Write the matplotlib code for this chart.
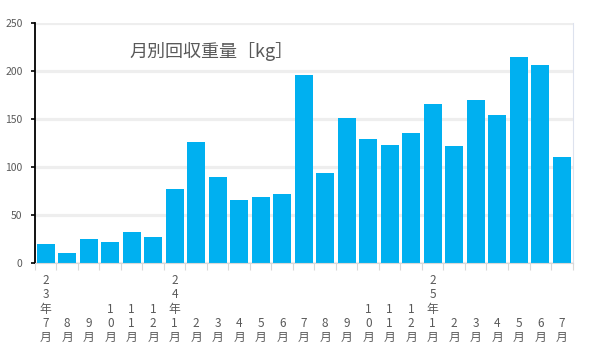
import matplotlib
matplotlib.use("Agg")
import matplotlib.pyplot as plt
import numpy as np

plt.rcParams['font.family'] = ['Noto Sans CJK JP', 'DejaVu Sans']

labels = ["23年7月", "8月", "9月", "10月", "11月", "12月",
          "24年1月", "2月", "3月", "4月", "5月", "6月", "7月", "8月", "9月", "10月", "11月", "12月",
          "25年1月", "2月", "3月", "4月", "5月", "6月", "7月"]
values = [20, 10, 25, 22, 32, 27,
          77, 126, 90, 66, 69, 72, 196, 94, 151, 129, 123, 135,
          166, 122, 170, 154, 215, 206, 110]
yticks = [0, 50, 100, 150, 200, 250]
title = "月別回収重量［kg］"

fig = plt.figure(figsize=(5.91, 3.48), dpi=100)
ax = fig.add_axes([0.0592, 0.2443, 0.9095, 0.6896])

x = np.arange(len(values))
ax.bar(x, values, width=0.82, color='#00b0f0', zorder=2)

ax.set_xlim(-0.5, len(values) - 0.5)
ax.set_ylim(0, 250)
ax.set_yticks(yticks)
ax.yaxis.grid(True, color='#eeeeee', linewidth=2.3, zorder=0)
ax.set_axisbelow(True)

# vertical stacked labels, padded so all bottoms align
maxlen = max(len(s) for s in labels)
vlabels = ["\n" * (maxlen - len(s)) + "\n".join(list(s)) for s in labels]
ax.set_xticks(x)
ax.set_xticklabels(vlabels, fontsize=8.5, color='#595959', linespacing=1.13, va='top')
ax.set_xticks(np.arange(-0.5, len(values), 1.0), minor=True)
ax.tick_params(axis='x', which='major', length=0, pad=8)
ax.tick_params(axis='x', which='minor', length=5, color='#d9d9d9', width=0.8)
ax.tick_params(axis='y', length=3, color='black', width=1.2, labelsize=7.5, labelcolor='#595959', pad=6)

ax.spines['top'].set_visible(False)
ax.spines['left'].set_color('black')
ax.spines['left'].set_linewidth(1.3)
ax.spines['bottom'].set_color('#d9d9d9')
ax.spines['bottom'].set_linewidth(0.8)
ax.spines['right'].set_color('#dde2ee')
ax.spines['right'].set_linewidth(0.8)

ax.text(0.175, 0.88, title, transform=ax.transAxes, fontsize=13, color='#595959',
        ha='left', va='center')

fig.savefig("out.png", dpi=100)
